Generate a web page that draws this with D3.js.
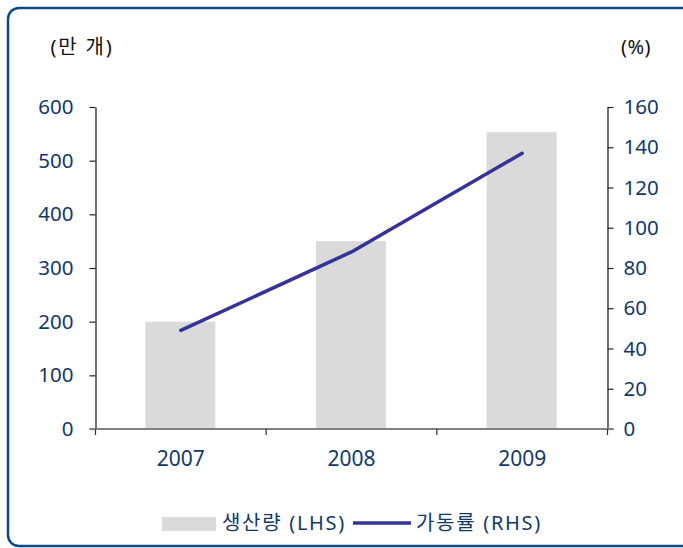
<!DOCTYPE html>
<html><head><meta charset="utf-8">
<script src="https://cdn.jsdelivr.net/npm/d3@7/dist/d3.min.js"></script>
<style>
html,body{margin:0;padding:0;background:#fff;}
svg text{font-family:"Noto Sans","Noto Sans CJK KR",sans-serif;}
</style></head>
<body><svg id="c" width="683" height="548"></svg>
<script>
const years = ["2007","2008","2009"];
const production = [200, 350, 553];
const utilization = [49, 88, 137];
const leftTicks = [0,100,200,300,400,500,600];
const rightTicks = [0,20,40,60,80,100,120,140,160];
const leftTitle = "(만 개)";
const rightTitle = "(%)";
const legendLabels = ["생산량 (LHS)", "가동률 (RHS)"];

const svg = d3.select("#c");
const navy = "#12386b";
const barColor = "#dadada";
const lineColor = "#33339a";

// frame
svg.append("rect").attr("x",8).attr("y",8).attr("width",720).attr("height",538)
  .attr("rx",11).attr("fill","none").attr("stroke","#0d4a87").attr("stroke-width",2.5);

const L = 95.5, R = 607.5, T = 107, B = 429;
const x = d3.scaleBand().domain(years).range([L, R]).padding(0);
const yL = d3.scaleLinear().domain([0,600]).range([B,T]);
const yR = d3.scaleLinear().domain([0,160]).range([B,T]);

// bars
const bw = x.bandwidth();
svg.append("g").selectAll("rect").data(years).join("rect")
  .attr("x", d => x(d) + bw*0.292)
  .attr("width", bw*0.41)
  .attr("y", (d,i) => yL(production[i]))
  .attr("height", (d,i) => B - yL(production[i]))
  .attr("fill", barColor);

// axes
const ga = svg.append("g").attr("transform",`translate(${L},0)`)
  .call(d3.axisLeft(yL).tickValues(leftTicks).tickSize(6).tickSizeOuter(0).tickPadding(16));
const gb = svg.append("g").attr("transform",`translate(${R},0)`)
  .call(d3.axisRight(yR).tickValues(rightTicks).tickSize(6).tickSizeOuter(0).tickPadding(10));
[ga,gb].forEach(g=>{
  g.select(".domain").attr("stroke","#111").attr("stroke-width",1.2);
  g.selectAll(".tick line").attr("stroke","#222").attr("stroke-width",1.2);
  g.selectAll(".tick text").attr("fill",navy).attr("font-size",20.5);
});
ga.selectAll(".tick").filter(d=>d===0).select("line").attr("stroke","#808080");
gb.selectAll(".tick").filter(d=>d===0).select("line").attr("stroke","#808080");

svg.append("line").attr("x1",L-6).attr("x2",R+6).attr("y1",B).attr("y2",B)
  .attr("stroke","#808080").attr("stroke-width",2);
const edges = years.map(d=>x(d)).concat([x.range()[1]]);
svg.append("g").selectAll("line").data(edges).join("line")
  .attr("x1",d=>d).attr("x2",d=>d).attr("y1",B).attr("y2",B+6)
  .attr("stroke","#333").attr("stroke-width",1.2);
svg.append("g").selectAll("text").data(years).join("text")
  .attr("x",d=>x(d)+bw/2).attr("y",B+37).attr("text-anchor","middle")
  .attr("fill",navy).attr("font-size",21).text(d=>d);

// line
const line = d3.line().x((d,i)=>x(years[i])+bw/2).y(d=>yR(d));
svg.append("path").datum(utilization).attr("d",line).attr("fill","none")
  .attr("stroke",lineColor).attr("stroke-width",3.5).attr("stroke-linecap","round").attr("stroke-linejoin","round");

// titles
svg.append("text").attr("x",82).attr("y",54).attr("text-anchor","middle")
  .attr("font-size",20).attr("letter-spacing",1.8).attr("fill","#111").text(leftTitle);
svg.append("text").attr("x",636).attr("y",54).attr("text-anchor","middle")
  .attr("font-size",20).attr("letter-spacing",0.5).attr("fill","#111").text(rightTitle);

// legend
const lg = svg.append("g");
lg.append("rect").attr("x",162).attr("y",517).attr("width",54).attr("height",14).attr("fill",barColor);
lg.append("text").attr("x",222).attr("y",530).attr("font-size",20).attr("letter-spacing",1.7).attr("fill",navy).text(legendLabels[0]);
lg.append("line").attr("x1",353).attr("x2",411).attr("y1",523).attr("y2",523)
  .attr("stroke",lineColor).attr("stroke-width",3.5);
lg.append("text").attr("x",416).attr("y",530).attr("font-size",20).attr("letter-spacing",1.7).attr("fill",navy).text(legendLabels[1]);
</script></body></html>
